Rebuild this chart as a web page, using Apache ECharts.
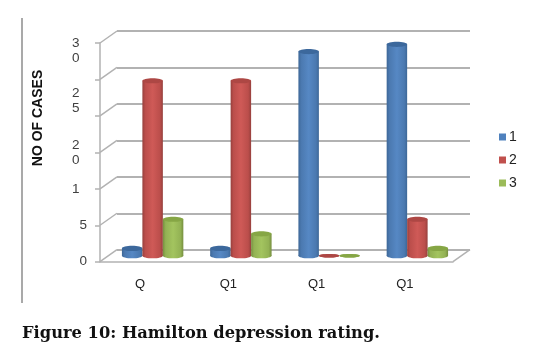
<!DOCTYPE html>
<html><head><meta charset="utf-8">
<style>html,body{margin:0;padding:0;background:#fff}#c{width:534px;height:354px}</style>
<script src="https://cdn.jsdelivr.net/npm/echarts@6/dist/echarts.min.js"></script>
</head><body><div id="c"></div>
<script>
const categories = ['Q', 'Q1', 'Q1', 'Q1'];
const seriesNames = ['1', '2', '3'];
const values1 = [1, 1, 28, 29];
const values2 = [24, 24, 0, 5];
const values3 = [5, 3, 0, 1];
const tickValues = [0, 5, 10, 15, 20, 25, 30];
const tickLabels = ['0', '5', '1  ', '2  \n0  ', '2  \n5  \n\n', '', '\n3  \n0  '];

const chart = echarts.init(document.getElementById('c'), null, {renderer: 'canvas'});
const DX = 17, DY = -12;
const gray = '#b2b2b2';

function grad(c) {
  return new echarts.graphic.LinearGradient(0, 0, 1, 0, [
    {offset: 0, color: c[0]}, {offset: 0.14, color: c[1]},
    {offset: 0.5, color: c[2]}, {offset: 0.86, color: c[1]}, {offset: 1, color: c[0]}
  ]);
}
const palettes = [
  {body: ['#3d6797', '#4b79b0', '#5688c4'], top: '#3c689c'},
  {body: ['#96403d', '#bb4e4b', '#cf5a57'], top: '#ad4744'},
  {body: ['#768f3f', '#93b254', '#a3c45f'], top: '#86a645'}
];
function barItem(si) {
  return function (params, api) {
    const cat = api.value(0), v = api.value(1);
    const base = api.coord([cat, 0]), top = api.coord([cat, v]);
    const band = api.size([1, 0])[0];
    const w = band * 0.232, step = band * 0.232;
    const cx = base[0] + (si - 1) * step;
    const ry = v === 0 ? 1.8 : 2.6;
    const fill = grad(palettes[si].body);
    return {type: 'group', children: [
      {type: 'ellipse', shape: {cx: cx, cy: base[1], rx: w / 2, ry: ry}, style: {fill: v === 0 ? palettes[si].top : fill}},
      {type: 'rect', shape: {x: cx - w / 2, y: top[1], width: w, height: base[1] - top[1]}, style: {fill: fill}},
      {type: 'ellipse', shape: {cx: cx, cy: top[1], rx: w / 2, ry: ry}, style: {fill: palettes[si].top}}
    ]};
  };
}
function diagonals(params, api) {
  const y = api.coord([0, api.value(0)])[1];
  const x0 = params.coordSys.x;
  const children = [{type: 'line', shape: {x1: x0, y1: y, x2: x0 + DX, y2: y + DY}, style: {stroke: gray, lineWidth: 1.5}}];
  if (api.value(0) === 0) {
    const x1 = x0 + params.coordSys.width;
    children.push({type: 'line', shape: {x1: x1, y1: y, x2: x1 + DX, y2: y + DY}, style: {stroke: gray, lineWidth: 1.5}});
  }
  return {type: 'group', children};
}
const valueAxisBase = {type: 'value', min: 0, max: 30, interval: 5};
const lists = [values1, values2, values3];

chart.setOption({
  animation: false,
  backgroundColor: '#fff',
  title: {
    text: 'Figure 10: Hamilton depression rating.',
    left: 22, top: 326, padding: 0,
    textStyle: {fontFamily: 'DejaVu Serif', fontWeight: 'bold', fontSize: 16.3, color: '#111'}
  },
  legend: {
    data: seriesNames, orient: 'vertical', left: 494, top: 125,
    icon: 'rect', itemWidth: 7, itemHeight: 7, itemGap: 9,
    textStyle: {fontFamily: 'Liberation Sans Narrow, Liberation Sans', fontSize: 14, color: '#222', padding: [0, 0, 0, -2]}
  },
  grid: [
    {left: 117, top: 31, width: 353, height: 218.7},
    {left: 100, top: 43, width: 353, height: 218.7},
    {left: 108.5, top: 37, width: 353, height: 218.7}
  ],
  xAxis: [
    {gridIndex: 0, type: 'category', data: categories, axisLine: {show: false}, axisTick: {show: false}, axisLabel: {show: false}},
    {gridIndex: 1, type: 'category', data: categories, axisLine: {lineStyle: {color: gray, width: 1.5}}, axisTick: {show: false},
      axisLabel: {margin: 16, padding: [0, 8, 0, 0], fontFamily: 'Liberation Sans', fontSize: 13, color: '#222'}},
    {gridIndex: 2, type: 'category', data: categories, axisLine: {show: false}, axisTick: {show: false}, axisLabel: {show: false}}
  ],
  yAxis: [
    Object.assign({gridIndex: 0, axisLine: {show: false}, axisTick: {show: false}, axisLabel: {show: false},
      splitLine: {lineStyle: {color: gray, width: 2}}}, valueAxisBase),
    Object.assign({gridIndex: 1,
      axisLine: {show: true, lineStyle: {color: gray, width: 1.5}},
      axisTick: {show: true, length: 5, lineStyle: {color: gray, width: 1.5}},
      splitLine: {show: false},
      axisLabel: {margin: 13, align: 'right', lineHeight: 15, fontFamily: 'Liberation Sans', fontSize: 13.5, color: '#404040',
        formatter: v => tickLabels[tickValues.indexOf(v)]}}, valueAxisBase),
    Object.assign({gridIndex: 2, axisLine: {show: false}, axisTick: {show: false}, axisLabel: {show: false}, splitLine: {show: false}}, valueAxisBase)
  ],
  graphic: [
    {type: 'line', shape: {x1: 22, y1: 18, x2: 22, y2: 303}, style: {stroke: '#8c8c8c', lineWidth: 1.5}},
    {type: 'text', x: 38.5, y: 118, rotation: Math.PI / 2,
      style: {text: 'NO OF CASES', align: 'center', verticalAlign: 'middle',
        fontFamily: 'Liberation Sans', fontWeight: 'bold', fontSize: 14, fill: '#111'}}
  ],
  series: [
    {type: 'custom', name: 'axisDepth', xAxisIndex: 1, yAxisIndex: 1, silent: true,
      data: tickValues.map(v => [v]), renderItem: diagonals, encode: {y: 0}},
  ].concat(seriesNames.map((n, si) => ({
    type: 'custom', name: n, xAxisIndex: 2, yAxisIndex: 2,
    itemStyle: {color: ['#4f81bd', '#c0504d', '#9bbb59'][si]},
    data: lists[si].map((v, i) => [i, v]),
    encode: {x: 0, y: 1},
    renderItem: barItem(si)
  })))
});
</script></body></html>
